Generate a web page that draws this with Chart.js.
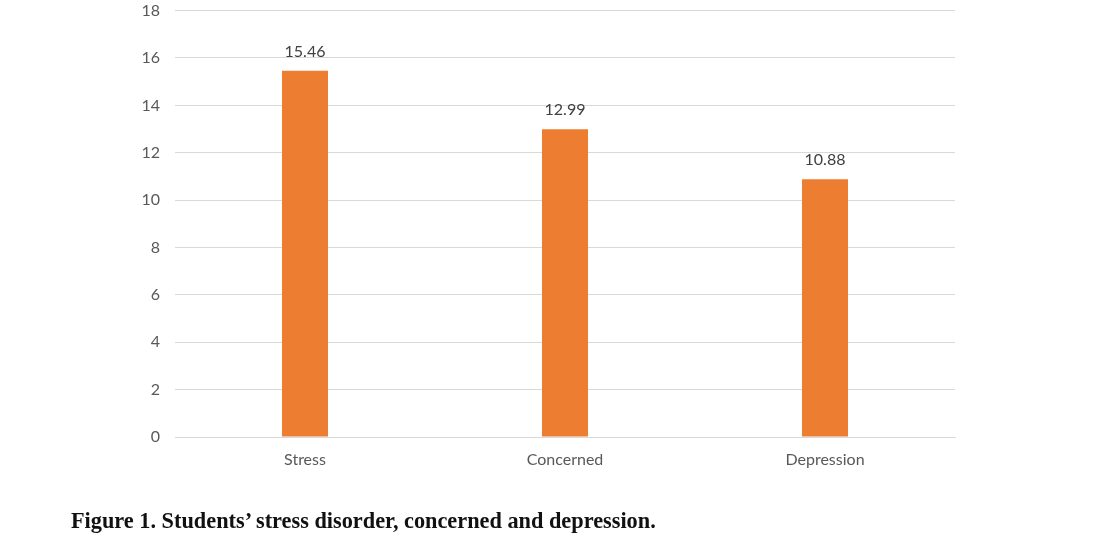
<!DOCTYPE html>
<html>
<head>
<meta charset="utf-8">
<script src="https://cdn.jsdelivr.net/npm/chart.js@4"></script>
<style>
  html, body { margin: 0; padding: 0; background: #fff; overflow: hidden; }
  #wrap { position: relative; width: 1116px; height: 533px; overflow: hidden; }
  #c { position: absolute; left: 0; top: -14px; }
  #cap { position: absolute; left: 71px; top: 508px; font-family: "Liberation Serif", "Times New Roman", serif; font-weight: bold; font-size: 22.3px; line-height: 26px; color: #111; white-space: nowrap; }
</style>
</head>
<body>
<div id="wrap">
  <canvas id="c" width="1116" height="547"></canvas>
  <div id="cap">Figure 1. Students’ stress disorder, concerned and depression.</div>
</div>
<script>
const categories = ["Stress", "Concerned", "Depression"];
const values = [15.46, 12.99, 10.88];
const yTicks = [0, 2, 4, 6, 8, 10, 12, 14, 16, 18];

const FONT = 'Lato, "Open Sans", sans-serif';

const labelPlugin = {
  id: 'valueLabels',
  afterDatasetsDraw(chart) {
    const ctx = chart.ctx;
    const meta = chart.getDatasetMeta(0);
    ctx.save();
    ctx.font = '16px ' + FONT;
    ctx.fillStyle = '#404040';
    ctx.textAlign = 'center';
    ctx.textBaseline = 'middle';
    meta.data.forEach((bar, i) => {
      ctx.fillText(values[i].toFixed(2), bar.x, bar.y - 19);
    });
    ctx.restore();
  }
};

new Chart(document.getElementById('c'), {
  type: 'bar',
  data: {
    labels: categories,
    datasets: [{
      data: values,
      backgroundColor: '#ED7D31',
      barPercentage: 0.177,
      categoryPercentage: 1.0
    }]
  },
  options: {
    responsive: false,
    animation: false,
    layout: { padding: { top: 9, right: 161, bottom: 56, left: 0 } },
    plugins: { legend: { display: false }, tooltip: { enabled: false } },
    scales: {
      x: {
        grid: { display: false, drawTicks: false },
        border: { display: true, color: '#d9d9d9' },
        ticks: { color: '#595959', font: { family: FONT, size: 16 }, padding: 13 },
        afterFit: s => { s.height = 40; }
      },
      y: {
        min: 0, max: 18,
        afterBuildTicks: s => { s.ticks = yTicks.map(v => ({ value: v })); },
        grid: { color: '#d9d9d9', drawTicks: false },
        border: { display: false },
        ticks: { color: '#595959', font: { family: FONT, size: 16 }, padding: 15 },
        afterFit: s => { s.width = 175; }
      }
    }
  },
  plugins: [labelPlugin]
});
</script>
</body>
</html>
